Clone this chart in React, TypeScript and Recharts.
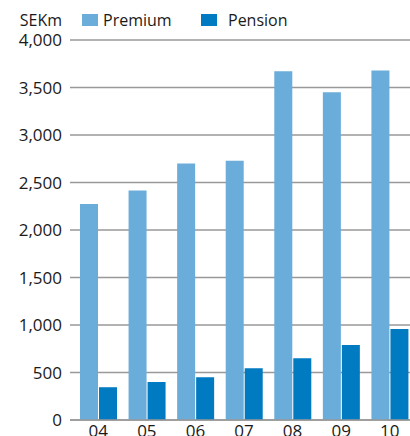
import React from "react";
import { BarChart, Bar, XAxis, YAxis, CartesianGrid, Legend } from "recharts";

const years = ["04", "05", "06", "07", "08", "09", "10"];
const premium = [2275, 2415, 2700, 2730, 3670, 3450, 3680];
const pension = [345, 400, 450, 545, 650, 790, 957];
const yTicks = [0, 500, 1000, 1500, 2000, 2500, 3000, 3500, 4000];

const PREMIUM_COLOR = "#6aacda";
const PENSION_COLOR = "#007ac0";
const FONT = "'Open Sans', 'Noto Sans', sans-serif";

const data = years.map((year, i) => ({
  year,
  premium: premium[i],
  pension: pension[i],
}));

const renderLegend = () => {
  const textStyle: React.CSSProperties = {
    position: "absolute",
    top: 12,
    fontSize: 16,
    lineHeight: "16px",
    color: "#1a1a1a",
    whiteSpace: "nowrap",
  };
  const boxStyle: React.CSSProperties = {
    position: "absolute",
    top: 13.5,
    width: 16,
    height: 12.5,
  };
  return (
    <div style={{ position: "relative", width: 410, height: 36, fontFamily: FONT }}>
      <span style={{ ...textStyle, left: 0, width: 62, textAlign: "right" }}>SEKm</span>
      <span style={{ ...boxStyle, left: 82, background: PREMIUM_COLOR }} />
      <span style={{ ...textStyle, left: 103 }}>Premium</span>
      <span style={{ ...boxStyle, left: 201, background: PENSION_COLOR }} />
      <span style={{ ...textStyle, left: 228 }}>Pension</span>
    </div>
  );
};

export default function App() {
  return (
    <div
      style={{
        position: "absolute",
        top: 0,
        left: 0,
        width: 410,
        height: 436,
        overflow: "hidden",
        background: "#fff",
      }}
    >
      <BarChart
        width={418}
        height={436}
        data={data}
        margin={{ top: 40, right: 0, bottom: 0, left: 0 }}
        barSize={18}
        barGap={1}
      >
        <CartesianGrid vertical={false} stroke="#999" strokeWidth={1.3} />
        <XAxis
          dataKey="year"
          height={16}
          padding={{ left: 4, right: 4 }}
          tickLine={false}
          tickSize={0}
          tickMargin={5}
          axisLine={{ stroke: "#999", strokeWidth: 1.3 }}
          tick={{ fill: "#1a1a1a", fontSize: 17, fontFamily: FONT }}
          interval={0}
        />
        <YAxis
          width={70}
          domain={[0, 4000]}
          ticks={yTicks}
          interval={0}
          axisLine={false}
          tickLine={false}
          tickSize={0}
          tickMargin={8}
          tickFormatter={(v: number) => v.toLocaleString("en-US")}
          tick={{ fill: "#1a1a1a", fontSize: 17, fontFamily: FONT }}
        />
        <Legend
          layout="horizontal"
          verticalAlign="middle"
          wrapperStyle={{ top: 0, left: 0 }}
          content={renderLegend}
        />
        <Bar dataKey="premium" name="Premium" fill={PREMIUM_COLOR} isAnimationActive={false} />
        <Bar dataKey="pension" name="Pension" fill={PENSION_COLOR} isAnimationActive={false} />
      </BarChart>
    </div>
  );
}
